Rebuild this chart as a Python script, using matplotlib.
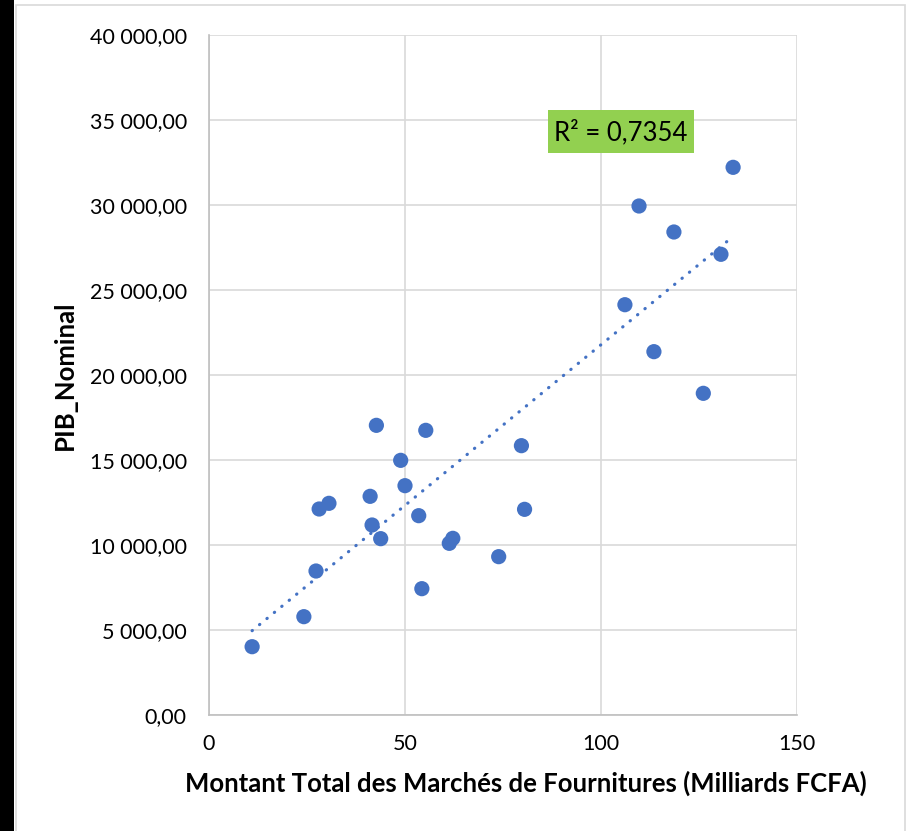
import numpy as np
import matplotlib
matplotlib.use("Agg")
import matplotlib.pyplot as plt
from matplotlib.patches import Rectangle
from matplotlib.ticker import FuncFormatter

plt.rcParams['font.family'] = ['Lato', 'DejaVu Sans']

# Data
marches = [11.0, 24.2, 27.3, 28.1, 30.6, 42.7, 41.1, 41.6, 43.8, 48.9, 50.0,
           53.5, 54.3, 55.3, 61.3, 62.2, 73.9, 79.7, 80.5,
           133.7, 109.7, 118.6, 130.6, 106.1, 113.5, 126.1]
pib = [4018, 5784, 8470, 12118, 12451, 17039, 12863, 11176, 10373, 14980, 13490,
       11725, 7431, 16745, 10098, 10392, 9314, 15843, 12098,
       32216, 29941, 28412, 27100, 24135, 21373, 18922]
# linear trendline (y = slope * x + intercept)
trend_slope = 189.0
trend_intercept = 2880.0
x_ticks = [0, 50, 100, 150]
y_ticks = [0, 5000, 10000, 15000, 20000, 25000, 30000, 35000, 40000]
r2_label = "R² = 0,7354"
x_label = "Montant Total des Marchés de Fournitures (Milliards FCFA)"
y_label = "PIB_Nominal"

W, H = 907, 831
fig = plt.figure(figsize=(W / 100, H / 100), dpi=100)
fig.patch.set_facecolor('white')

# left black strip and chart border
fig.patches.append(Rectangle((0, 0), 14 / W, 1, transform=fig.transFigure,
                             facecolor='black', edgecolor='none', zorder=0))
fig.patches.append(Rectangle((15.5 / W, -0.01), (905 - 15.5) / W, 1 - 5.5 / H + 0.01,
                             transform=fig.transFigure, facecolor='none',
                             edgecolor='#D9D9D9', linewidth=1.2, zorder=0))

ax = fig.add_axes([209 / W, 1 - 715 / H, (797 - 209) / W, (715 - 35) / H])
ax.set_xlim(0, 150)
ax.set_ylim(0, 40000)
ax.set_xticks(x_ticks)
ax.set_yticks(y_ticks)

def fmt_y(v, pos):
    return f"{v:,.2f}".replace(",", " ").replace(".", ",")

ax.yaxis.set_major_formatter(FuncFormatter(fmt_y))
ax.xaxis.set_major_formatter(FuncFormatter(lambda v, p: f"{int(v)}"))

ax.grid(True, color='#D9D9D9', linewidth=1.2)
ax.set_axisbelow(True)
for s in ['top', 'right']:
    ax.spines[s].set_visible(False)
for s in ['left', 'bottom']:
    ax.spines[s].set_color('#BFBFBF')
    ax.spines[s].set_linewidth(1.2)
ax.tick_params(length=0, labelsize=15.5, colors='black')
ax.tick_params(axis='y', pad=16)
ax.tick_params(axis='x', pad=14)

ax.scatter(marches, pib, s=120, color='#4472C4', edgecolors='none', zorder=3)

xa = np.array(marches)
xt = np.array([xa.min(), xa.max()])
ax.plot(xt, trend_slope * xt + trend_intercept, color='#4472C4', linewidth=2.3,
        linestyle=(0, (0.1, 2.9)), dash_capstyle='round', zorder=4)

# R² label box
fig.patches.append(Rectangle((548 / W, 1 - 153 / H), (694 - 548) / W, 43 / H,
                             transform=fig.transFigure, facecolor='#92D050',
                             edgecolor='none', zorder=5))
fig.text(621 / W, 1 - 132 / H, r2_label, ha='center', va='center', fontsize=18.5,
         color='black', zorder=6)

ax.set_xlabel(x_label, fontsize=18.5, fontweight='bold')
ax.set_ylabel(y_label, fontsize=18.5, fontweight='bold')
ax.xaxis.set_label_coords((526 - 209) / (797 - 209), -(783 - 715) / (715 - 35))
ax.yaxis.set_label_coords(-(209 - 65) / (797 - 209), 0.5)
ax.xaxis.label.set_va('center')
ax.yaxis.label.set_va('center')

fig.savefig("out.png", dpi=100, facecolor='white')
